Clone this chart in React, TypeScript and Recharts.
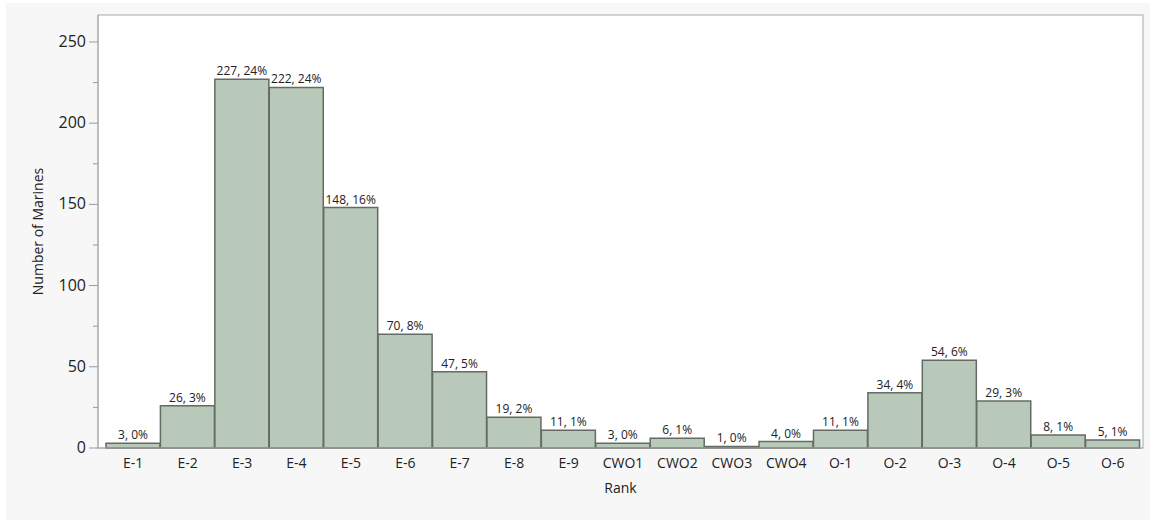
import { Bar, BarChart, LabelList, XAxis, YAxis } from "recharts";

const ranks = ["E-1", "E-2", "E-3", "E-4", "E-5", "E-6", "E-7", "E-8", "E-9", "CWO1", "CWO2", "CWO3", "CWO4", "O-1", "O-2", "O-3", "O-4", "O-5", "O-6"];
const counts = [3, 26, 227, 222, 148, 70, 47, 19, 11, 3, 6, 1, 4, 11, 34, 54, 29, 8, 5];
const percents = ["0%", "3%", "24%", "24%", "16%", "8%", "5%", "2%", "1%", "0%", "1%", "0%", "0%", "1%", "4%", "6%", "3%", "1%", "1%"];
const yTicks = [0, 25, 50, 75, 100, 125, 150, 175, 200, 225, 250];

const data = ranks.map((rank, i) => ({
  rank,
  count: counts[i],
  label: `${counts[i]}, ${percents[i]}`
}));

const font = "'Open Sans', 'Noto Sans', sans-serif";

function YTick(props: any) {
  const { x, y, payload } = props;
  const major = payload.value % 50 === 0;
  return (
    <g>
      <line x1={x + 8 - (major ? 9 : 5)} x2={x + 8} y1={y} y2={y} stroke="#9a9a9a" />
      {major && (
        <text x={x - 4} y={y} dy={5} textAnchor="end" fontSize={16} fill="#222" fontFamily={font}>
          {payload.value}
        </text>
      )}
    </g>
  );
}

function BarLabel(props: any) {
  const { x, y, width, value } = props;
  return (
    <text x={x + width / 2} y={y - 4} textAnchor="middle" fontSize={12} fill="#222" fontFamily={font}>
      {value}
    </text>
  );
}

export default function App() {
  return (
    <div style={{ position: "relative", width: 1153, height: 521 }}>
      <style>{"body{margin:0}"}</style>
      <div style={{ position: "absolute", left: 6, top: 3, width: 1144, height: 517, background: "#f7f7f7" }} />
      <div style={{ position: "absolute", left: 0, top: 0 }}>
        <BarChart
          width={1153}
          height={521}
          data={data}
          barCategoryGap={0}
          margin={{ top: 15, right: 10, bottom: 20, left: 20 }}
        >
          <rect x={98} y={15} width={1045} height={433} fill="#fff" stroke="#a8a8a8" />
          <XAxis
            dataKey="rank"
            interval={0}
            padding={{ left: 8, right: 3 }}
            height={53}
            stroke="#a8a8a8"
            tickLine={false}
            tick={{ fill: "#222", fontSize: 14, fontFamily: font, dy: 2 }}
            label={{ value: "Rank", position: "insideBottom", offset: 8, fill: "#222", fontSize: 14, fontFamily: font }}
          />
          <YAxis
            domain={[0, 266.6]}
            ticks={yTicks}
            width={78}
            stroke="#a8a8a8"
            tickLine={false}
            tick={<YTick />}
            label={{
              value: "Number of Marines",
              angle: -90,
              position: "insideLeft",
              offset: 18,
              style: { textAnchor: "middle" },
              fill: "#222",
              fontSize: 14,
              fontFamily: font
            }}
          />
          <Bar dataKey="count" fill="#b9c9b9" stroke="#646b64" strokeWidth={1.5} isAnimationActive={false}>
            <LabelList dataKey="label" content={<BarLabel />} />
          </Bar>
        </BarChart>
      </div>
    </div>
  );
}
